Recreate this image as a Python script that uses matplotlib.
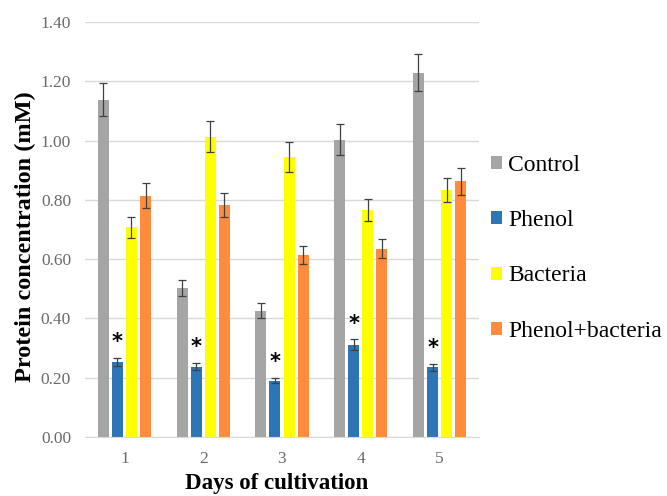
import matplotlib
matplotlib.use("Agg")
import matplotlib.pyplot as plt
import numpy as np

days = ["1", "2", "3", "4", "5"]
series = ["Control", "Phenol", "Bacteria", "Phenol+bacteria"]
control = [1.138, 0.502, 0.426, 1.003, 1.229]
phenol = [0.253, 0.237, 0.190, 0.311, 0.235]
bacteria = [0.707, 1.013, 0.944, 0.766, 0.833]
phenol_bacteria = [0.814, 0.783, 0.614, 0.635, 0.862]
control_err = [0.056, 0.027, 0.026, 0.052, 0.063]
phenol_err = [0.015, 0.012, 0.009, 0.018, 0.011]
bacteria_err = [0.036, 0.053, 0.050, 0.038, 0.040]
pb_err = [0.043, 0.040, 0.032, 0.032, 0.045]
yticks = [0.0, 0.2, 0.4, 0.6, 0.8, 1.0, 1.2, 1.4]

colors = ["#a5a5a5", "#2e75b6", "#ffff00", "#ff8c3c"]
values = [control, phenol, bacteria, phenol_bacteria]
errs = [control_err, phenol_err, bacteria_err, pb_err]

fig = plt.figure(figsize=(6.67, 4.96), dpi=100)
ax = fig.add_axes([85/667, 1-437/496, (479-85)/667, (437-22)/496])

x = np.arange(1, len(days) + 1)
step = 0.179
width = 0.14
for i, (vals, er, c, name) in enumerate(zip(values, errs, colors, series)):
    pos = x + (i - 1.5) * step
    ax.bar(pos, vals, width=width, color=c, label=name, zorder=2,
           yerr=er, error_kw=dict(ecolor="#404040", elinewidth=0.9, capsize=3, capthick=0.9, zorder=3))
    if name == "Phenol":
        for p, v, e in zip(pos, vals, er):
            ax.text(p, v + e + 0.02, "*", ha="center", va="bottom", fontsize=15,
                    fontweight="bold", family="DejaVu Sans", color="black")

ax.set_xlim(0.5, 5.5)
ax.set_ylim(0, 1.4)
ax.set_yticks(yticks)
ax.set_yticklabels([f"{t:.2f}" for t in yticks])
ax.set_xticks(x)
ax.set_xticklabels(days)
ax.grid(axis="y", color="#d9d9d9", linewidth=1, zorder=0)
ax.set_axisbelow(True)
for s in ["top", "right", "left"]:
    ax.spines[s].set_visible(False)
ax.spines["bottom"].set_color("#d9d9d9")
ax.tick_params(axis="both", length=0, labelsize=12.5, labelcolor="#6a6a6a")
ax.tick_params(axis="y", pad=10)
ax.tick_params(axis="x", pad=10)
for lab in ax.get_xticklabels() + ax.get_yticklabels():
    lab.set_family("Liberation Serif")

fig.text(25/667, 1-237/496, "Protein concentration (mM)", rotation=90, ha="center", va="center",
         fontsize=17.5, fontweight="bold", family="Liberation Serif")
fig.text(277/667, 1-484/496, "Days of cultivation", ha="center", va="center",
         fontsize=16.5, fontweight="bold", family="Liberation Serif")

leg = fig.legend(loc="upper left", bbox_to_anchor=(491/667, 1-155/496), frameon=False,
                 prop=dict(family="Liberation Serif", size=17), handlelength=0.47, handleheight=0.47,
                 handletextpad=0.26, labelspacing=1.45, borderpad=0, borderaxespad=0)

fig.savefig("out.png", dpi=100)
